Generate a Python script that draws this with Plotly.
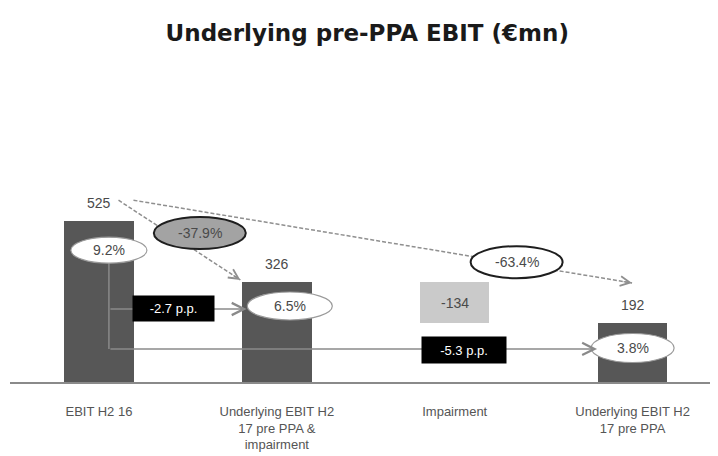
import plotly.graph_objects as go

# ---------------- data ----------------
categories = ["EBIT H2 16",
              "Underlying EBIT H2<br>17 pre PPA &<br>impairment",
              "Impairment",
              "Underlying EBIT H2<br>17 pre PPA"]
values = [525, 326, -134, 192]
measures = ["total", "total", "relative", "total"]
value_labels = ["525", "326", "-134", "192"]
margin_labels = ["9.2%", "6.5%", None, "3.8%"]
growth_labels = ["-37.9%", "-63.4%"]
pp_labels = ["-2.7 p.p.", "-5.3 p.p."]

# ---------------- derived bar geometry ----------------
xs = list(range(len(categories)))
bases, heights = [], []
running = 0
for v, m in zip(values, measures):
    if m == "total":
        bases.append(0)
        heights.append(v)
        running = v
    else:
        new = running + v
        bases.append(min(running, new))
        heights.append(abs(v))
        running = new

DARK = "#575757"
LIGHT = "#cacaca"
TXT = "#4a4a4a"
colors = [LIGHT if m == "relative" else DARK for m in measures]

fig = go.Figure()
fig.add_trace(go.Bar(x=xs, y=heights, base=bases, width=0.39,
                     marker=dict(color=colors, line=dict(width=0)),
                     hoverinfo="skip", showlegend=False))

shapes = []
annotations = []

# value labels
for i, (b, h, m, lab) in enumerate(zip(bases, heights, measures, value_labels)):
    if m == "relative":
        annotations.append(dict(x=i, y=b + h / 2, text=lab, showarrow=False,
                                font=dict(size=14, color=TXT)))
    else:
        annotations.append(dict(x=i, y=b + h, text=lab, showarrow=False,
                                yanchor="bottom", yshift=8,
                                font=dict(size=14, color=TXT)))

# dashed growth arrows
dash_lines = [((0.11, 593), (0.795, 333)), ((0.194, 593), (2.997, 323))]
dash_tail = [(-8.4, -5.5), (-10, -1.7)]
for (p0, p1), (tx, ty) in zip(dash_lines, dash_tail):
    shapes.append(dict(type="line", xref="x", yref="y", x0=p0[0], y0=p0[1],
                       x1=p1[0], y1=p1[1],
                       line=dict(color="#8f8f8f", width=1.5, dash="4px,2px"),
                       layer="above"))
    annotations.append(dict(x=p1[0], y=p1[1], ax=tx, ay=ty, text="",
                            showarrow=True, arrowhead=5, arrowsize=1.6,
                            arrowwidth=1.2, arrowcolor="#8f8f8f"))

# growth ellipses
growth_pos = [(0.567, 486), (2.348, 391)]
growth_fill = ["#a3a3a3", "#ffffff"]
for (gx, gy), lab, fill in zip(growth_pos, growth_labels, growth_fill):
    shapes.append(dict(type="circle", xref="x", yref="y",
                       xsizemode="pixel", ysizemode="pixel",
                       xanchor=gx, yanchor=gy, x0=-46, x1=46, y0=-16, y1=16,
                       fillcolor=fill, line=dict(color="#1e1e1e", width=2),
                       layer="above"))
    annotations.append(dict(x=gx, y=gy, text=lab, showarrow=False,
                            font=dict(size=14, color=TXT)))

# margin connectors
vx = 0.056
shapes.append(dict(type="line", xref="x", yref="y", x0=vx, y0=400, x1=vx, y1=108,
                   line=dict(color="#8a8a8a", width=1.5), layer="above"))
connector_y = [238, 108]
connector_end = [0.83, 2.80]
for cy, ce in zip(connector_y, connector_end):
    annotations.append(dict(x=ce, y=cy, ax=vx, ay=cy, axref="x", ayref="y",
                            text="", showarrow=True, arrowhead=5, arrowsize=1.6,
                            arrowwidth=1.5, arrowcolor="#8a8a8a"))

# margin ellipses
margin_pos = [(0.056, 430), (1.073, 248), None, (3.0, 111)]
margin_size = [(76, 26), (85, 28), None, (83, 29)]
for pos, sz, lab in zip(margin_pos, margin_size, margin_labels):
    if lab is None:
        continue
    shapes.append(dict(type="circle", xref="x", yref="y",
                       xsizemode="pixel", ysizemode="pixel",
                       xanchor=pos[0], yanchor=pos[1],
                       x0=-sz[0] / 2, x1=sz[0] / 2, y0=-sz[1] / 2, y1=sz[1] / 2,
                       fillcolor="#ffffff", line=dict(color="#9a9a9a", width=1.2),
                       layer="above"))
    annotations.append(dict(x=pos[0], y=pos[1], text=lab, showarrow=False,
                            font=dict(size=14, color=TXT)))

# p.p. boxes
pp_pos = [(0.42, 241), (2.05, 104)]
pp_size = [(79, 23), (82, 24)]
for (px, py), (w, h), lab in zip(pp_pos, pp_size, pp_labels):
    annotations.append(dict(x=px, y=py, text=lab, showarrow=False,
                            width=w, height=h, bgcolor="#000000",
                            font=dict(size=13, color="#ffffff")))

fig.update_layout(
    width=710, height=448,
    margin=dict(l=1.5, r=0, t=92, b=74, autoexpand=False),
    paper_bgcolor="white", plot_bgcolor="white",
    font=dict(family="Liberation Sans, Arial, sans-serif", color=TXT),
    title=dict(text="<b>Underlying pre-PPA EBIT (€mn)</b>", x=0.506, xanchor="center",
               y=0.944, yanchor="middle",
               font=dict(family="DejaVu Sans, sans-serif", size=23, color="#1a1a1a")),
    xaxis=dict(range=[-0.5, 3.48], tickvals=xs, ticktext=categories,
               showline=True, linecolor="#8a8a8a", linewidth=2,
               showgrid=False, zeroline=False, ticks="",
               tickfont=dict(size=13, color="#555555"),
               ticklabelstandoff=16, automargin=False, fixedrange=True),
    yaxis=dict(range=[0, 920], visible=False, fixedrange=True, automargin=False),
    shapes=shapes, annotations=annotations,
    bargap=0, showlegend=False,
)

fig.write_html("out.html")
